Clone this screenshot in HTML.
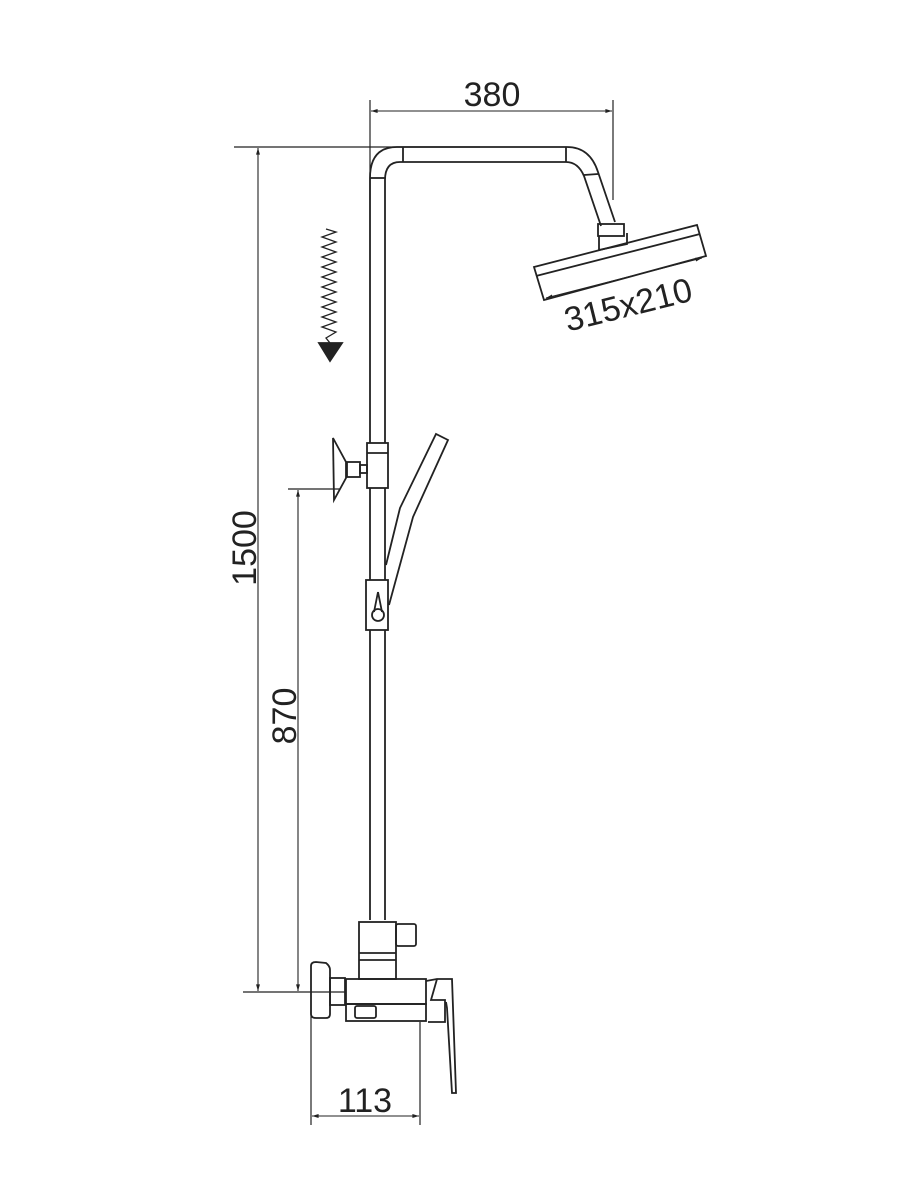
<!DOCTYPE html>
<html><head><meta charset="utf-8"><style>body{margin:0;background:#fff}svg{display:block}</style></head><body>
<svg width="900" height="1200" viewBox="0 0 900 1200" xmlns="http://www.w3.org/2000/svg" fill="none" stroke="#222" stroke-width="1.8" font-family="Liberation Sans, sans-serif">
<defs><marker id="a" viewBox="0 0 10 10" refX="10" refY="5" markerWidth="8" markerHeight="6" orient="auto-start-reverse"><path d="M0,2 L10,5 L0,8Z" fill="#222" stroke="none"/></marker></defs>
<!-- dims -->
<line x1="234" y1="147" x2="480" y2="147" stroke-width="1.2"/>
<line x1="370" y1="100" x2="370" y2="200" stroke-width="1.2"/>
<line x1="613" y1="100" x2="613" y2="200" stroke-width="1.2"/>
<line x1="371" y1="111" x2="612" y2="111" stroke-width="1.1" marker-start="url(#a)" marker-end="url(#a)"/>
<text x="492" y="106" font-size="34" fill="#222" stroke="none" text-anchor="middle">380</text>
<line x1="258" y1="148" x2="258" y2="991" stroke-width="1.1" marker-start="url(#a)" marker-end="url(#a)"/>
<text transform="translate(256,548) rotate(-90)" font-size="34" fill="#222" stroke="none" text-anchor="middle">1500</text>
<line x1="288" y1="489" x2="340" y2="489" stroke-width="1.2"/>
<line x1="298" y1="490" x2="298" y2="991" stroke-width="1.1" marker-start="url(#a)" marker-end="url(#a)"/>
<text transform="translate(296,716) rotate(-90)" font-size="34" fill="#222" stroke="none" text-anchor="middle">870</text>
<line x1="243" y1="992" x2="345" y2="992" stroke-width="1.2"/>
<line x1="311" y1="1010" x2="311" y2="1125" stroke-width="1.2"/>
<line x1="420" y1="1022" x2="420" y2="1125" stroke-width="1.2"/>
<line x1="312" y1="1116" x2="419" y2="1116" stroke-width="1.1" marker-start="url(#a)" marker-end="url(#a)"/>
<text x="365" y="1112" font-size="34" fill="#222" stroke="none" text-anchor="middle">113</text>
<!-- riser -->
<path d="M370,920 V178 Q370,147 397,147 H567 Q590,147 598,172 L615,222"/>
<path d="M385,920 V180 Q385,162 400,162 H566 Q578,162 584,176 L601,226"/>
<line x1="370" y1="178" x2="385" y2="178"/><line x1="403" y1="147" x2="403" y2="162"/><line x1="566" y1="147" x2="566" y2="162"/><line x1="584" y1="175" x2="598" y2="174"/>
<rect x="598" y="224" width="26" height="12"/>
<path d="M599,236 L599,250 L627,244 L627,233"/>
<!-- head -->
<path d="M534,267 L697,225 L706,256 L544,300 Z"/>
<line x1="536" y1="276" x2="700" y2="234"/>
<line x1="546" y1="298" x2="702" y2="258" stroke-width="1.1" marker-start="url(#a)" marker-end="url(#a)"/>
<text transform="translate(631,316) rotate(-14)" font-size="34" fill="#222" stroke="none" text-anchor="middle">315x210</text>
<!-- zigzag arrow -->
<path d="M326,229 L336,232 L322,237 L336,242 L322,247 L336,252 L322,257 L336,262 L322,267 L336,272 L322,277 L336,282 L322,287 L336,292 L322,297 L336,302 L322,307 L336,312 L322,317 L336,322 L322,327 L336,332 L326,338 L330,343" stroke-width="1.3"/>
<path d="M319,343 H342 L330,361 Z" fill="#222"/>
<!-- upper slider + bracket -->
<rect x="367" y="443" width="21" height="45" fill="#fff"/><line x1="367" y1="453" x2="388" y2="453"/>
<rect x="360" y="465" width="7" height="8"/><rect x="347" y="462" width="13" height="15"/>
<path d="M333,438 L346,462 L346,478 L334,500 Z"/>
<!-- hand shower -->
<path d="M386,565 L400,508 L436,434 L448,440 L413,517 L389,605"/>
<!-- lower slider -->
<rect x="366" y="580" width="22" height="50" fill="#fff"/>
<path d="M378,592 L374,612 M378,592 L382,612"/><circle cx="378" cy="615" r="6"/>
<!-- valve -->
<rect x="359" y="922" width="37" height="57" fill="#fff"/>
<line x1="359" y1="953" x2="396" y2="953"/><line x1="359" y1="960" x2="396" y2="960"/>
<rect x="396" y="924" width="20" height="22" rx="2"/>
<rect x="346" y="979" width="80" height="25"/>
<rect x="346" y="1004" width="80" height="17"/>
<rect x="355" y="1006" width="21" height="12" rx="2"/>
<path d="M311,966 Q311,962 316,962 L326,963 Q330,966 330,970 V1014 Q330,1018 326,1018 L316,1018 Q311,1018 311,1014 Z"/>
<rect x="330" y="978" width="15" height="27"/>
<path d="M426,981 L437,979 L452,979 L456,1093 L452,1093 L447,1008 L446,1002"/>
<path d="M437,979 L431,1000 L445,1000 L445,1022 L428,1022"/>
</svg>
</body></html>
